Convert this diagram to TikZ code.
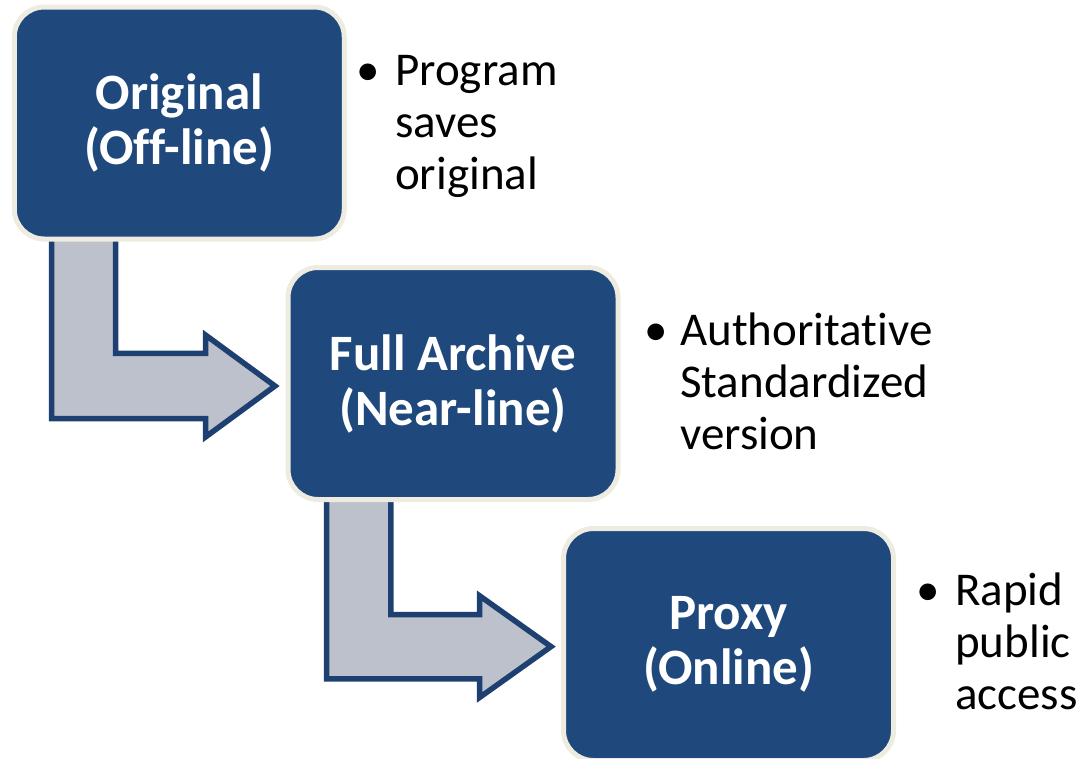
\documentclass[tikz,border=0pt]{standalone}
\usepackage{fontspec}
\setmainfont{Carlito}[Ligatures={NoCommon,NoContextual}]
\definecolor{boxblue}{HTML}{1F497D}
\definecolor{boxedge}{HTML}{EEECE1}
\definecolor{arrowfill}{HTML}{BCC1CC}
\definecolor{arrowedge}{HTML}{1E4070}
\tikzset{
  stagebox/.style={draw=boxedge, line width=5pt, fill=boxblue, rounded corners=30pt,
    minimum width=330pt, minimum height=232pt, inner sep=0pt, text=white,
    font=\fontsize{51}{55}\selectfont\bfseries, align=center},
  bentarrow/.style={draw=arrowedge, fill=arrowfill, line width=5.5pt, line join=miter},
  bulletdot/.style={inner sep=0pt, font=\fontsize{47}{52}\selectfont},
  bullettext/.style={inner sep=0pt, font=\fontsize{47}{52}\selectfont, anchor=base west}
}
\begin{document}
\begin{tikzpicture}[x=1pt,y=-1pt]
\useasboundingbox (0,0) rectangle (1091,758);
\clip (0,0) rectangle (1091,758);
% bent block arrows (behind boxes)
\draw[bentarrow] (51.5,225) -- (51.5,418.7) -- (205.5,418.7) -- (205.5,437) -- (275,386)
  -- (205.5,335) -- (205.5,353.3) -- (115.5,353.3) -- (115.5,225) -- cycle;
\draw[bentarrow] (326.7,485) -- (326.7,678.8) -- (479.5,678.8) -- (479.5,697.5) -- (551,646.6)
  -- (479.5,595.7) -- (479.5,614.5) -- (390.8,614.5) -- (390.8,485) -- cycle;
% stage boxes
\node[stagebox] (orig) at (179.25,123) {Original\\(Off-line)};
\node[stagebox] (arch) at (453,383.5) {Full Archive\\(Near-line)};
\node[stagebox] (prox) at (728.5,644.5) {Proxy\\(Online)};
% bullets
\node[bulletdot, anchor=base] (d1) at (368.5,85) {•};
\node[bullettext] (t1) at (395,85) {\begin{tabular}[t]{@{}l@{}}Program\\saves\\original\end{tabular}};
\node[bulletdot, anchor=base] (d2) at (656.5,345) {•};
\node[bullettext] (t2) at (680,345) {\begin{tabular}[t]{@{}l@{}}Authoritative\\Standardized\\version\end{tabular}};
\node[bulletdot, anchor=base] (d3) at (928.5,605) {•};
\node[bullettext] (t3) at (955,605) {\begin{tabular}[t]{@{}l@{}}Rapid\\public\\access\end{tabular}};
\end{tikzpicture}
\end{document}
